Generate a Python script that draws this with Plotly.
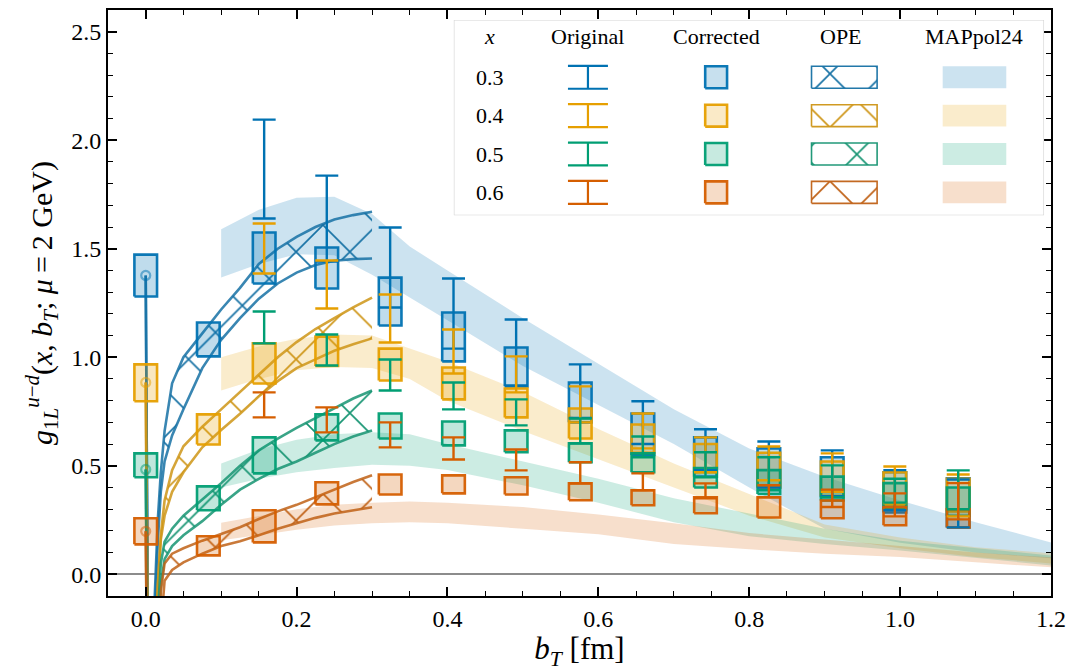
import plotly.graph_objects as go

# ---------------- data ----------------
x_labels = ["0.3", "0.4", "0.5", "0.6"]
colors = [(0, 114, 178), (230, 159, 0), (0, 158, 115), (213, 94, 0)]

# lattice b_T positions [fm]
b_lat = [0.0, 0.083, 0.157, 0.240, 0.324, 0.408, 0.491, 0.576, 0.659, 0.742, 0.826, 0.910, 0.993, 1.077]

# "Corrected" boxes (lower, upper) for x = 0.3, 0.4, 0.5, 0.6
corr_lo_03 = [1.280, 1.004, 1.340, 1.317, 1.146, 0.981, 0.866, 0.700, 0.550, 0.450, 0.400, 0.355, 0.285, 0.216]
corr_hi_03 = [1.473, 1.160, 1.575, 1.506, 1.367, 1.206, 1.045, 0.884, 0.741, 0.631, 0.580, 0.539, 0.470, 0.442]
corr_lo_04 = [0.797, 0.598, 0.879, 0.960, 0.893, 0.806, 0.723, 0.626, 0.560, 0.470, 0.400, 0.360, 0.320, 0.290]
corr_hi_04 = [0.967, 0.737, 1.064, 1.095, 1.040, 0.953, 0.856, 0.764, 0.690, 0.600, 0.560, 0.520, 0.470, 0.440]
corr_lo_05 = [0.447, 0.295, 0.465, 0.617, 0.626, 0.594, 0.562, 0.516, 0.470, 0.400, 0.370, 0.340, 0.300, 0.270]
corr_hi_05 = [0.557, 0.405, 0.631, 0.737, 0.741, 0.704, 0.663, 0.603, 0.557, 0.490, 0.480, 0.450, 0.420, 0.400]
corr_lo_06 = [0.138, 0.087, 0.147, 0.322, 0.368, 0.373, 0.368, 0.341, 0.318, 0.281, 0.262, 0.258, 0.226, 0.216]
corr_hi_06 = [0.258, 0.175, 0.295, 0.424, 0.460, 0.456, 0.447, 0.419, 0.387, 0.355, 0.355, 0.340, 0.310, 0.300]

# central values at b_T = 0 (circles)
zero_center = [1.377, 0.884, 0.483, 0.198]

# "Original" error bars, from the third b_T point on
b_orig = b_lat[2:]
orig_lo_03 = [1.639, 1.441, 1.229, 1.040, 0.870, 0.720, 0.600, 0.480, 0.400, 0.360, 0.295, 0.216]
orig_hi_03 = [2.095, 1.837, 1.598, 1.363, 1.174, 0.967, 0.797, 0.668, 0.612, 0.571, 0.480, 0.437]
orig_lo_04 = [1.386, 1.225, 1.068, 0.925, 0.838, 0.700, 0.580, 0.470, 0.433, 0.380, 0.327, 0.267]
orig_hi_04 = [1.616, 1.446, 1.289, 1.128, 1.004, 0.866, 0.741, 0.631, 0.589, 0.557, 0.497, 0.460]
orig_lo_05 = [1.064, 0.962, 0.847, 0.760, 0.686, 0.603, 0.539, 0.447, 0.387, 0.355, 0.330, 0.300]
orig_hi_05 = [1.211, 1.105, 0.990, 0.884, 0.806, 0.718, 0.635, 0.562, 0.539, 0.502, 0.440, 0.479]
orig_lo_06 = [0.723, 0.654, 0.585, 0.529, 0.479, 0.419, 0.387, 0.350, 0.355, 0.310, 0.267, 0.253]
orig_hi_06 = [0.838, 0.769, 0.700, 0.631, 0.575, 0.516, 0.465, 0.419, 0.410, 0.390, 0.373, 0.420]

# OPE bands
b_ope = [0.0, 0.005, 0.012, 0.016, 0.02, 0.025, 0.035, 0.05, 0.075, 0.1, 0.125, 0.15, 0.175, 0.2, 0.225, 0.25, 0.275, 0.3]
ope_hi_03 = [1.377, -1.5, -0.10, 0.25, 0.47, 0.66, 0.88, 1.00, 1.11, 1.22, 1.32, 1.43, 1.50, 1.555, 1.60, 1.635, 1.655, 1.67]
ope_lo_03 = [1.377, -1.5, -0.20, 0.15, 0.38, 0.52, 0.64, 0.76, 0.95, 1.08, 1.18, 1.27, 1.34, 1.39, 1.425, 1.445, 1.452, 1.455]
ope_hi_04 = [0.884, -1.5, -0.30, -0.05, 0.18, 0.34, 0.48, 0.59, 0.68, 0.76, 0.84, 0.92, 1.00, 1.07, 1.13, 1.18, 1.23, 1.275]
ope_lo_04 = [0.884, -1.5, -0.50, -0.05, 0.16, 0.27, 0.38, 0.47, 0.585, 0.665, 0.74, 0.82, 0.89, 0.95, 0.99, 1.03, 1.06, 1.087]
ope_hi_05 = [0.483, -1.5, -0.60, -0.20, 0.05, 0.15, 0.21, 0.27, 0.345, 0.42, 0.50, 0.571, 0.625, 0.675, 0.72, 0.765, 0.81, 0.847]
ope_lo_05 = [0.483, -1.5, -0.80, -0.30, -0.05, 0.07, 0.13, 0.18, 0.245, 0.32, 0.39, 0.44, 0.485, 0.52, 0.56, 0.60, 0.635, 0.663]
ope_hi_06 = [0.198, -1.5, -0.90, -0.40, -0.08, 0.05, 0.095, 0.12, 0.155, 0.185, 0.217, 0.255, 0.29, 0.32, 0.355, 0.39, 0.425, 0.456]
ope_lo_06 = [0.198, -1.5, -1.00, -0.60, -0.25, -0.03, 0.02, 0.055, 0.095, 0.13, 0.152, 0.18, 0.21, 0.235, 0.26, 0.28, 0.295, 0.309]

# MAPpol24 bands
b_map = [0.1, 0.15, 0.2, 0.25, 0.3, 0.35, 0.4, 0.5, 0.6, 0.7, 0.8, 0.9, 1.0, 1.1, 1.2]
map_hi_03 = [1.59, 1.68, 1.735, 1.74, 1.66, 1.51, 1.40, 1.18, 0.97, 0.76, 0.58, 0.45, 0.34, 0.24, 0.147]
map_lo_03 = [1.367, 1.43, 1.475, 1.47, 1.38, 1.275, 1.17, 0.96, 0.78, 0.60, 0.40, 0.21, 0.145, 0.10, 0.074]
map_hi_04 = [1.0, 1.05, 1.085, 1.105, 1.10, 1.04, 0.98, 0.84, 0.67, 0.51, 0.37, 0.23, 0.17, 0.125, 0.097]
map_lo_04 = [0.847, 0.90, 0.94, 0.955, 0.95, 0.90, 0.80, 0.66, 0.53, 0.40, 0.27, 0.17, 0.12, 0.08, 0.05]
map_hi_05 = [0.511, 0.575, 0.62, 0.645, 0.655, 0.645, 0.60, 0.52, 0.44, 0.35, 0.28, 0.21, 0.155, 0.12, 0.087]
map_lo_05 = [0.40, 0.44, 0.47, 0.49, 0.505, 0.50, 0.48, 0.41, 0.33, 0.24, 0.175, 0.14, 0.11, 0.075, 0.041]
map_hi_06 = [0.237, 0.27, 0.30, 0.32, 0.33, 0.335, 0.33, 0.31, 0.275, 0.235, 0.19, 0.16, 0.13, 0.10, 0.078]
map_lo_06 = [0.157, 0.18, 0.205, 0.225, 0.235, 0.24, 0.235, 0.21, 0.185, 0.14, 0.115, 0.095, 0.08, 0.055, 0.032]

corr_lo = [corr_lo_03, corr_lo_04, corr_lo_05, corr_lo_06]
corr_hi = [corr_hi_03, corr_hi_04, corr_hi_05, corr_hi_06]
orig_lo = [orig_lo_03, orig_lo_04, orig_lo_05, orig_lo_06]
orig_hi = [orig_hi_03, orig_hi_04, orig_hi_05, orig_hi_06]
ope_hi = [ope_hi_03, ope_hi_04, ope_hi_05, ope_hi_06]
ope_lo = [ope_lo_03, ope_lo_04, ope_lo_05, ope_lo_06]
map_hi = [map_hi_03, map_hi_04, map_hi_05, map_hi_06]
map_lo = [map_lo_03, map_lo_04, map_lo_05, map_lo_06]

# ---------------- style ----------------
FONT = "Liberation Serif, Times New Roman, serif"
BOX_HALF = 0.015
HATCH = dict(shape="x", size=38, solidity=0.085, fgopacity=1)


def rgba(c, a):
    return "rgba(%d,%d,%d,%.3f)" % (c[0], c[1], c[2], a)


def muted(c):
    return tuple(int(0.8 * v + 0.2 * 110) for v in c)


fig = go.Figure()

# MAPpol24 bands
for i, c in enumerate(colors):
    fig.add_trace(go.Scatter(
        x=b_map + b_map[::-1], y=map_hi[i] + map_lo[i][::-1],
        fill="toself", fillcolor=rgba(c, 0.2), line=dict(width=0),
        mode="lines", hoverinfo="skip", showlegend=False))

# OPE hatched bands
for i, c in enumerate(colors):
    mc = muted(c)
    fig.add_trace(go.Scatter(
        x=b_ope + b_ope[::-1], y=ope_hi[i] + ope_lo[i][::-1],
        fill="toself", fillcolor="rgba(0,0,0,0)",
        fillpattern=dict(fgcolor=rgba(mc, 1.0), bgcolor="rgba(0,0,0,0)", **HATCH),
        line=dict(width=0), mode="lines", hoverinfo="skip", showlegend=False))
    for arr in (ope_hi[i], ope_lo[i]):
        fig.add_trace(go.Scatter(
            x=b_ope, y=arr, mode="lines",
            line=dict(color=rgba(mc, 0.85), width=2.6),
            hoverinfo="skip", showlegend=False))

# Corrected boxes
for i, c in enumerate(colors):
    xs, ys = [], []
    for b, lo, hi in zip(b_lat, corr_lo[i], corr_hi[i]):
        xs += [b - BOX_HALF, b + BOX_HALF, b + BOX_HALF, b - BOX_HALF, b - BOX_HALF, None]
        ys += [lo, lo, hi, hi, lo, None]
    fig.add_trace(go.Scatter(
        x=xs, y=ys, mode="lines", fill="toself", fillcolor=rgba(c, 0.25),
        line=dict(color=rgba(c, 0.95), width=2.6), hoverinfo="skip", showlegend=False))

# circles at b_T = 0
for i, c in enumerate(colors):
    fig.add_trace(go.Scatter(
        x=[b_lat[0]], y=[zero_center[i]], mode="markers",
        marker=dict(symbol="circle-open", size=9, color=rgba(c, 0.5), line=dict(width=2.2)),
        hoverinfo="skip", showlegend=False))

# Original error bars
for i, c in enumerate(colors):
    mid = [(lo + hi) / 2 for lo, hi in zip(orig_lo[i], orig_hi[i])]
    fig.add_trace(go.Scatter(
        x=b_orig, y=mid, mode="markers",
        marker=dict(size=1, color="rgba(0,0,0,0)"),
        error_y=dict(type="data", symmetric=False,
                     array=[hi - m for hi, m in zip(orig_hi[i], mid)],
                     arrayminus=[m - lo for lo, m in zip(orig_lo[i], mid)],
                     color=rgba(c, 1.0), thickness=2.4, width=11.5),
        hoverinfo="skip", showlegend=False))

# ---------------- legend (own axes, pixel-like units) ----------------
LW, LH = 594, 196
fig.add_trace(go.Scatter(
    x=[0, LW, LW, 0, 0], y=[0, 0, LH, LH, 0], xaxis="x2", yaxis="y2",
    mode="lines", fill="toself", fillcolor="rgba(255,255,255,0.9)",
    line=dict(color="#d4d4d4", width=1.3), hoverinfo="skip", showlegend=False))

row_y = [138.5, 100, 61.5, 23]
col_x = {"x": 36, "orig": 135, "corr": 264, "ope": 393, "map": 524}

for i, c in enumerate(colors):
    ry = row_y[i]
    mc = muted(c)
    # original
    fig.add_trace(go.Scatter(
        x=[col_x["orig"]], y=[ry], xaxis="x2", yaxis="y2", mode="markers",
        marker=dict(size=1, color="rgba(0,0,0,0)"),
        error_y=dict(type="data", array=[11.5], color=rgba(c, 1), thickness=2.2, width=20),
        hoverinfo="skip", showlegend=False))
    # corrected
    cx = col_x["corr"]
    fig.add_trace(go.Scatter(
        x=[cx - 11, cx + 11, cx + 11, cx - 11, cx - 11], y=[ry - 11, ry - 11, ry + 11, ry + 11, ry - 11],
        xaxis="x2", yaxis="y2", mode="lines", fill="toself", fillcolor=rgba(c, 0.22),
        line=dict(color=rgba(c, 0.95), width=2.6), hoverinfo="skip", showlegend=False))
    # OPE
    ox = col_x["ope"]
    fig.add_trace(go.Scatter(
        x=[ox - 33, ox + 33, ox + 33, ox - 33, ox - 33], y=[ry - 11, ry - 11, ry + 11, ry + 11, ry - 11],
        xaxis="x2", yaxis="y2", mode="lines", fill="toself", fillcolor="rgba(0,0,0,0)",
        fillpattern=dict(fgcolor=rgba(mc, 1.0), bgcolor="rgba(0,0,0,0)", **HATCH),
        line=dict(color=rgba(mc, 0.95), width=1.6), hoverinfo="skip", showlegend=False))
    # MAPpol24
    mx = col_x["map"]
    fig.add_trace(go.Scatter(
        x=[mx - 32, mx + 32, mx + 32, mx - 32, mx - 32], y=[ry - 11, ry - 11, ry + 11, ry + 11, ry - 11],
        xaxis="x2", yaxis="y2", mode="lines", fill="toself", fillcolor=rgba(c, 0.2),
        line=dict(width=0), hoverinfo="skip", showlegend=False))

annos = []
header = [("x", "<i>x</i>"), ("orig", "Original"), ("corr", "Corrected"), ("ope", "OPE"), ("map", "MAPpol24")]
for key, txt in header:
    annos.append(dict(x=col_x[key] - (3 if key == "ope" else 0), y=179, xref="x2", yref="y2", text=txt,
                      showarrow=False, xanchor="center", yanchor="middle",
                      font=dict(family=FONT, size=22, color="black")))
for i, lab in enumerate(x_labels):
    annos.append(dict(x=col_x["x"], y=row_y[i], xref="x2", yref="y2", text=lab,
                      showarrow=False, xanchor="center", yanchor="middle",
                      font=dict(family=FONT, size=22, color="black")))

# ---------------- layout ----------------
L, R, T, B = 108, 17, 8, 75
W, H = 1074, 671
pw, ph = W - L - R, H - T - B
leg_x0, leg_x1 = 456, 1050
leg_yt, leg_yb = 18, 214

axis_common = dict(
    showline=True, linecolor="black", linewidth=2, mirror="allticks",
    ticks="inside", ticklen=9, tickwidth=1.8, tickcolor="black",
    showgrid=False, tickfont=dict(family=FONT, size=24, color="black"),
)

ytitle = ("<i>g</i><sub>1<i>L</i></sub><sup><i>u</i>\u2212<i>d</i></sup>"
          "(<i>x</i>, <i>b</i><sub><i>T</i></sub>; <i>\u03bc</i>\u2009=\u20092 GeV)")

fig.update_layout(
    width=W, height=H,
    margin=dict(l=L, r=R, t=T, b=B, pad=0),
    paper_bgcolor="white", plot_bgcolor="white",
    showlegend=False,
    annotations=annos,
    xaxis=dict(
        range=[-0.05, 1.2], tickvals=[0, 0.2, 0.4, 0.6, 0.8, 1.0, 1.2],
        ticktext=["0.0", "0.2", "0.4", "0.6", "0.8", "1.0", "1.2"],
        zeroline=False,
        minor=dict(ticks="inside", ticklen=5, tickwidth=1.4, tickcolor="black", dtick=0.05, tick0=0),
        title=dict(text="<i>b</i><sub><i>T</i></sub> [fm]", font=dict(family=FONT, size=31, color="black"), standoff=6),
        **axis_common),
    yaxis=dict(
        range=[-0.1, 2.6], tickvals=[0, 0.5, 1.0, 1.5, 2.0, 2.5],
        ticktext=["0.0", "0.5", "1.0", "1.5", "2.0", "2.5"],
        zeroline=True, zerolinecolor="#8c8c8c", zerolinewidth=1.6,
        minor=dict(ticks="inside", ticklen=5, tickwidth=1.4, tickcolor="black", dtick=0.1, tick0=0),
        title=dict(text=ytitle, font=dict(family=FONT, size=30, color="black"), standoff=10),
        **axis_common),
    xaxis2=dict(domain=[(leg_x0 - L) / pw, (leg_x1 - L) / pw], range=[0, LW], visible=False,
                anchor="y2", fixedrange=True),
    yaxis2=dict(domain=[(H - B - leg_yb) / ph, (H - B - leg_yt) / ph], range=[0, LH], visible=False,
                anchor="x2", fixedrange=True),
)

fig.write_html("out.html")
